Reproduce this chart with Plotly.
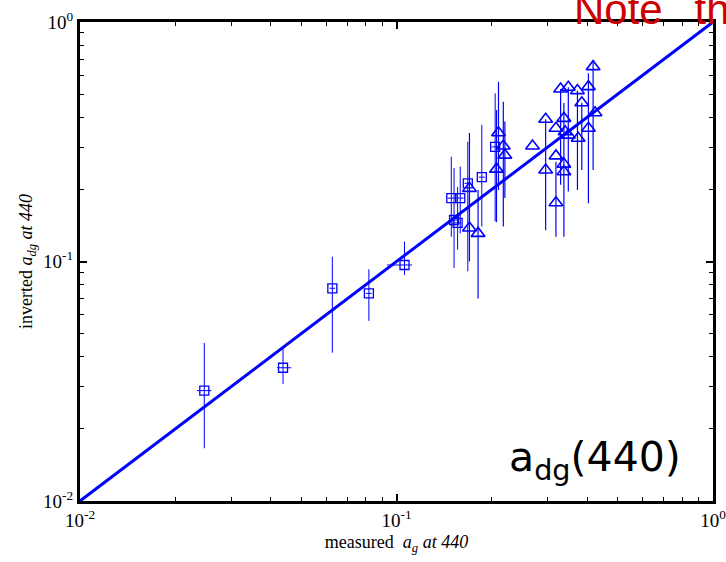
import numpy as np
import plotly.graph_objects as go

# ---- data ----
# squares: measured a_g(440) vs inverted a_dg(440)
sq_x = [0.0247, 0.0438, 0.0627, 0.0818, 0.106, 0.149, 0.159, 0.152, 0.156, 0.168, 0.186, 0.205]
sq_y = [0.0289, 0.0360, 0.0773, 0.0736, 0.0967, 0.184, 0.184, 0.149, 0.145, 0.212, 0.225, 0.301]
sq_y_hi = [0.0457, 0.0435, 0.1047, 0.0928, 0.121, 0.274, 0.249, 0.246, 0.205, 0.316, 0.372, 0.504]
sq_y_lo = [0.0166, 0.0308, 0.0416, 0.0565, 0.0878, 0.127, 0.131, 0.094, 0.112, 0.091, 0.140, 0.147]
sq_x_hi = [0.0260, 0.0465, 0.0640, 0.0835, 0.112, 0.153, 0.163, 0.156, 0.160, 0.172, 0.190, 0.210]
sq_x_lo = [0.0234, 0.0419, 0.0615, 0.0800, 0.0933, 0.145, 0.155, 0.148, 0.152, 0.164, 0.182, 0.200]

# triangles
tr_x = [0.170, 0.170, 0.181, 0.210, 0.2175, 0.220, 0.207, 0.269, 0.296, 0.296, 0.319, 0.319,
        0.319, 0.330, 0.349, 0.373, 0.404, 0.418, 0.385, 0.338, 0.341, 0.349, 0.338, 0.338,
        0.375, 0.404, 0.424]
tr_y = [0.202, 0.138, 0.131, 0.345, 0.3035, 0.278, 0.243, 0.3035, 0.3925, 0.241, 0.360, 0.276,
        0.176, 0.525, 0.534, 0.517, 0.537, 0.651, 0.460, 0.396, 0.348, 0.337, 0.255, 0.237,
        0.327, 0.360, 0.418]
tr_y_hi = [0.344, 0.190, 0.199, 0.563, 0.465, 0.384, 0.429, 0.3035, 0.3925, 0.241, 0.360, 0.276,
           0.261, 0.525, 0.534, 0.517, 0.611, 0.694, 0.460, 0.459, 0.348, 0.337, 0.255, 0.237,
           0.327, 0.360, 0.418]
tr_y_lo = [0.140, 0.100, 0.070, 0.199, 0.140, 0.184, 0.146, 0.3035, 0.135, 0.241, 0.360, 0.276,
           0.127, 0.209, 0.196, 0.199, 0.175, 0.241, 0.241, 0.127, 0.348, 0.337, 0.255, 0.237,
           0.327, 0.360, 0.418]

one_to_one = [0.01, 1.0]

major_ticks = [0.01, 0.1, 1.0]
major_text = ["10<sup>-2</sup>", "10<sup>-1</sup>", "10<sup>0</sup>"]
minor_ticks = [m * d for d in (0.01, 0.1) for m in range(2, 10)]

BLUE = "#0000ff"

sq_x, sq_y = np.array(sq_x), np.array(sq_y)
tr_x, tr_y = np.array(tr_x), np.array(tr_y)

fig = go.Figure()

fig.add_trace(go.Scatter(
    x=one_to_one, y=one_to_one, mode="lines",
    line=dict(color=BLUE, width=3), hoverinfo="skip", showlegend=False))

fig.add_trace(go.Scatter(
    x=sq_x, y=sq_y, mode="markers",
    marker=dict(symbol="square-open", size=9, color=BLUE, line=dict(width=1.3, color=BLUE)),
    error_y=dict(type="data", symmetric=False,
                 array=np.array(sq_y_hi) - sq_y, arrayminus=sq_y - np.array(sq_y_lo),
                 color=BLUE, thickness=1, width=0),
    error_x=dict(type="data", symmetric=False,
                 array=np.array(sq_x_hi) - sq_x, arrayminus=sq_x - np.array(sq_x_lo),
                 color=BLUE, thickness=1, width=0),
    showlegend=False))

fig.add_trace(go.Scatter(
    x=tr_x, y=tr_y, mode="markers",
    marker=dict(symbol="triangle-up-open", size=12, color=BLUE, line=dict(width=1.6, color=BLUE)),
    error_y=dict(type="data", symmetric=False,
                 array=np.array(tr_y_hi) - tr_y, arrayminus=tr_y - np.array(tr_y_lo),
                 color=BLUE, thickness=1.2, width=0),
    showlegend=False))

axis_common = dict(
    type="log", range=[-2, 0], automargin=False, ticklabeloverflow="allow",
    tickvals=major_ticks, ticktext=major_text,
    ticks="inside", ticklen=7, tickwidth=1.5, tickcolor="black",
    showline=True, linewidth=3, linecolor="black", mirror="allticks",
    showgrid=False, zeroline=False,
    tickfont=dict(family="Liberation Serif", size=19, color="black"),
    minor=dict(tickvals=minor_ticks, ticks="inside", ticklen=4, tickwidth=1.2,
               tickcolor="black", showgrid=False),
)

fig.update_xaxes(**axis_common,
                 title=dict(text="measured  <i>a</i><sub><i>g</i></sub><i> at 440</i>",
                            font=dict(family="Liberation Serif", size=18, color="black"),
                            standoff=6))
fig.update_yaxes(**axis_common,
                 title=dict(text="inverted <i>a</i><sub><i>dg</i></sub><i> at 440</i>",
                            font=dict(family="Liberation Serif", size=18, color="black"),
                            standoff=6))

fig.add_annotation(text="Note\u00a0\u00a0\u2009th", xref="paper", yref="paper", x=0.777, y=1,
                   xanchor="left", yanchor="bottom", yshift=-13.5, showarrow=False,
                   font=dict(family="Liberation Sans Narrow, Liberation Sans", size=42,
                             color="#cc0000"))

fig.add_annotation(text="a<sub>dg</sub>(440)", xref="paper", yref="paper", x=0.9526, y=0.025,
                   xanchor="right", yanchor="bottom", showarrow=False,
                   font=dict(family="DejaVu Sans", size=41, color="black"))

fig.update_layout(
    width=726, height=562,
    margin=dict(l=80, r=13, t=22, b=61),
    paper_bgcolor="white", plot_bgcolor="white",
)

fig.write_html("out.html")
